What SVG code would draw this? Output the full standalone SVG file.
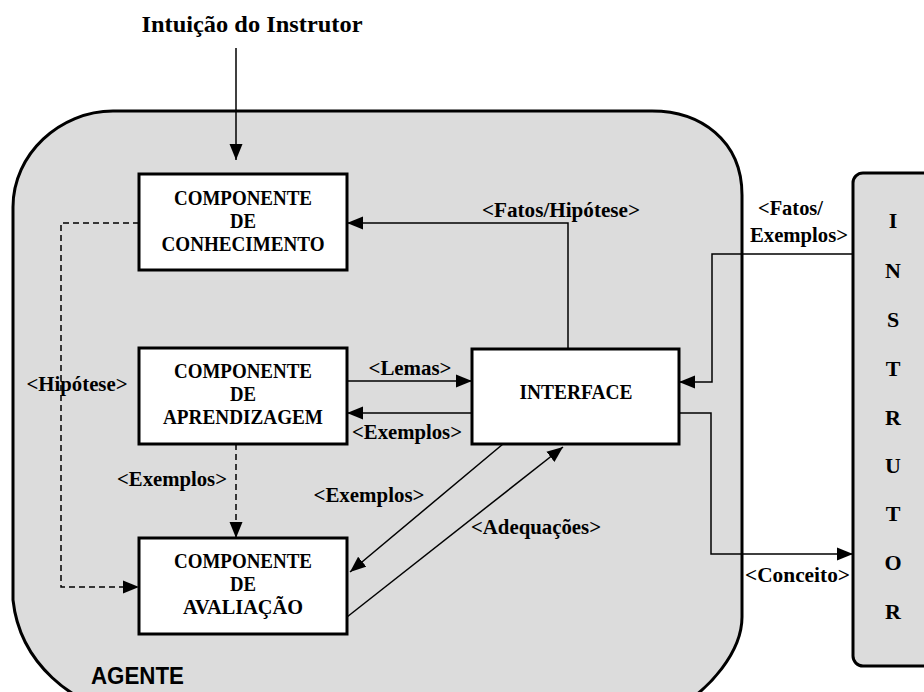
<svg xmlns="http://www.w3.org/2000/svg" width="924" height="692" viewBox="0 0 924 692">
  <style>
    .frame { fill: #dcdcdc; stroke: #000; stroke-width: 3; }
    .box { fill: #fff; stroke: #000; stroke-width: 3; }
    .conn { fill: none; stroke: #000; stroke-width: 1.5; }
    .dash { stroke-dasharray: 6 4; }
    .t { font-family: "Liberation Serif", "Times New Roman", serif; font-weight: bold; fill: #000; }
    .bt { font-size: 22px; text-anchor: middle; }
    .lbl { font-size: 20px; }
    .mid { text-anchor: middle; }
    .sans { font-family: "Liberation Sans", Arial, sans-serif; font-weight: bold; font-size: 23px; fill: #000; }
  </style>
  <defs>
    <marker id="arrow" markerUnits="userSpaceOnUse" markerWidth="17" markerHeight="14" refX="16" refY="7" orient="auto">
      <path d="M0,0.5 L16,7 L0,13.5 Z" fill="#000"/>
    </marker>
  </defs>

  <rect width="924" height="692" fill="#fff"/>

  <!-- agent boundary -->
  <g id="agente">
    <path class="frame" d="M13,207 C13,154 60,111 113,111 L652,111 C700,111 742,140 742,195 L742,617 C742,650 712,690 670,712 L120,712 C75,705 20,665 13,600 Z"/>
    <text class="sans" x="91" y="684" textLength="93" lengthAdjust="spacingAndGlyphs">AGENTE</text>
  </g>

  <!-- instructor column -->
  <g id="instrutor">
    <rect class="frame" x="853" y="173" width="110" height="493" rx="10"/>
    <g class="t bt" font-size="20">
      <text x="893" y="228">I</text>
      <text x="893" y="278">N</text>
      <text x="893" y="327">S</text>
      <text x="893" y="376">T</text>
      <text x="893" y="425">R</text>
      <text x="893" y="473">U</text>
      <text x="893" y="521">T</text>
      <text x="893" y="570">O</text>
      <text x="893" y="619">R</text>
    </g>
  </g>

  <g id="intuicao">
    <text class="t mid" font-size="23" x="252" y="32" textLength="221" lengthAdjust="spacingAndGlyphs">Intuição do Instrutor</text>
  </g>

  <g id="conhecimento">
    <rect class="box" x="139" y="174" width="208" height="96"/>
    <text class="t bt" x="243" y="205" textLength="138" lengthAdjust="spacingAndGlyphs">COMPONENTE</text>
    <text class="t bt" x="243" y="228" textLength="26" lengthAdjust="spacingAndGlyphs">DE</text>
    <text class="t bt" x="243" y="251" textLength="163" lengthAdjust="spacingAndGlyphs">CONHECIMENTO</text>
  </g>

  <g id="aprendizagem">
    <rect class="box" x="139" y="348" width="208" height="96"/>
    <text class="t bt" x="243" y="378" textLength="138" lengthAdjust="spacingAndGlyphs">COMPONENTE</text>
    <text class="t bt" x="243" y="401" textLength="26" lengthAdjust="spacingAndGlyphs">DE</text>
    <text class="t bt" x="243" y="424" textLength="160" lengthAdjust="spacingAndGlyphs">APRENDIZAGEM</text>
  </g>

  <g id="avaliacao">
    <rect class="box" x="139" y="538" width="208" height="96"/>
    <text class="t bt" x="243" y="568" textLength="138" lengthAdjust="spacingAndGlyphs">COMPONENTE</text>
    <text class="t bt" x="243" y="591" textLength="26" lengthAdjust="spacingAndGlyphs">DE</text>
    <text class="t bt" x="243" y="614" textLength="120" lengthAdjust="spacingAndGlyphs">AVALIAÇÃO</text>
  </g>

  <g id="interface">
    <rect class="box" x="472" y="349" width="207" height="95"/>
    <text class="t bt" x="576" y="399" textLength="113" lengthAdjust="spacingAndGlyphs">INTERFACE</text>
  </g>

  <!-- connectors -->
  <g id="connectors">
    <path class="conn" d="M236,48 L236,160" marker-end="url(#arrow)"/>
    <path class="conn" d="M568,349 L568,223 L347,223" marker-end="url(#arrow)"/>
    <path class="conn" d="M347,381 L472,381" marker-end="url(#arrow)"/>
    <path class="conn" d="M472,413 L347,413" marker-end="url(#arrow)"/>
    <path class="conn dash" d="M139,223 L61,223 L61,587 L139,587" marker-end="url(#arrow)"/>
    <path class="conn dash" d="M236,444 L236,538" marker-end="url(#arrow)"/>
    <path class="conn" d="M503,444 L350,572" marker-end="url(#arrow)"/>
    <path class="conn" d="M347,617 L563,447" marker-end="url(#arrow)"/>
    <path class="conn" d="M853,254 L712,254 L712,382 L679,382" marker-end="url(#arrow)"/>
    <path class="conn" d="M679,413 L711,413 L711,554 L853,554" marker-end="url(#arrow)"/>

    <g class="t lbl">
      <text class="mid" x="561" y="217" textLength="158" lengthAdjust="spacingAndGlyphs">&lt;Fatos/Hipótese&gt;</text>
      <text class="mid" x="410" y="375" textLength="83" lengthAdjust="spacingAndGlyphs">&lt;Lemas&gt;</text>
      <text class="mid" x="407" y="439" textLength="110" lengthAdjust="spacingAndGlyphs">&lt;Exemplos&gt;</text>
      <text class="mid" x="77" y="391" textLength="101" lengthAdjust="spacingAndGlyphs">&lt;Hipótese&gt;</text>
      <text class="mid" x="172" y="486" textLength="110" lengthAdjust="spacingAndGlyphs">&lt;Exemplos&gt;</text>
      <text class="mid" x="369" y="502" textLength="111" lengthAdjust="spacingAndGlyphs">&lt;Exemplos&gt;</text>
      <text class="mid" x="536" y="534" textLength="130" lengthAdjust="spacingAndGlyphs">&lt;Adequações&gt;</text>
      <text x="758" y="215" textLength="65" lengthAdjust="spacingAndGlyphs">&lt;Fatos/</text>
      <text x="750" y="242" textLength="98" lengthAdjust="spacingAndGlyphs">Exemplos&gt;</text>
      <text x="745" y="582" textLength="105" lengthAdjust="spacingAndGlyphs">&lt;Conceito&gt;</text>
    </g>
  </g>
</svg>
